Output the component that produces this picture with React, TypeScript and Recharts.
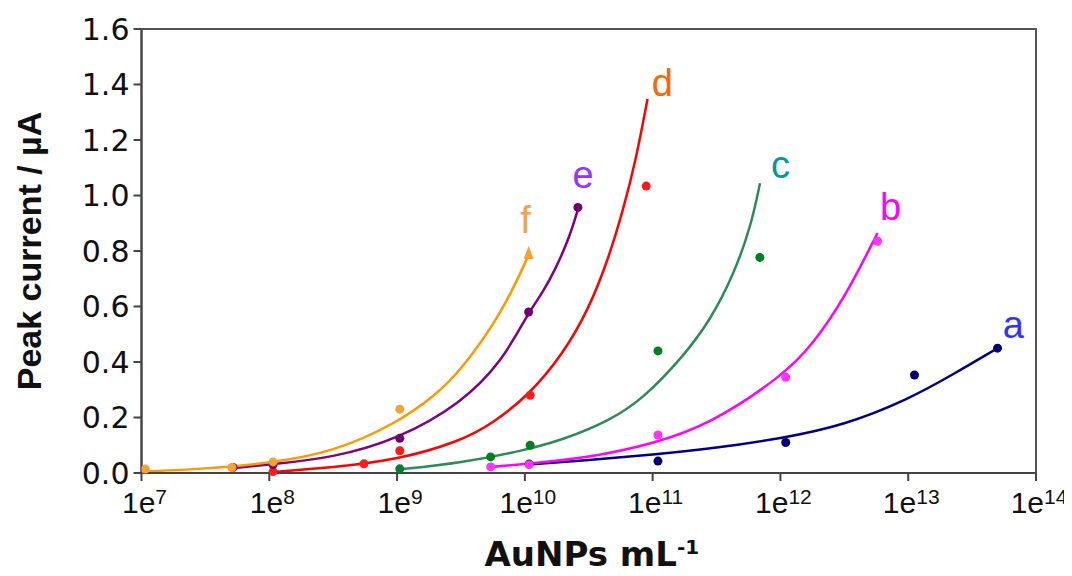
import {
  ComposedChart,
  Label,
  Line,
  ReferenceArea,
  ReferenceDot,
  Scatter,
  XAxis,
  YAxis,
} from 'recharts'

const decades = [1e7, 1e8, 1e9, 1e10, 1e11, 1e12, 1e13, 1e14]
const currentTicks = [0, 0.2, 0.4, 0.6, 0.8, 1.0, 1.2, 1.4, 1.6]

// measured points (AuNPs per mL, peak current in uA)
const aX = [1.08e10, 1.1e11, 1.1e12, 1.12e13, 5.0e13]
const aY = [0.032, 0.043, 0.11, 0.353, 0.45]
const bX = [5.4e9, 1.08e10, 1.1e11, 1.1e12, 5.75e12]
const bY = [0.022, 0.03, 0.137, 0.345, 0.835]
const cX = [1.05e9, 5.4e9, 1.1e10, 1.1e11, 6.9e11]
const cY = [0.015, 0.058, 0.1, 0.44, 0.777]
const dX = [1.07e8, 5.5e8, 1.05e9, 1.1e10, 8.9e10]
const dY = [0.005, 0.033, 0.08, 0.28, 1.034]
const eX = [5.2e7, 1.07e8, 1.05e9, 1.07e10, 2.6e10]
const eY = [0.02, 0.03, 0.125, 0.58, 0.957]
const fX = [1.07e7, 5.1e7, 1.07e8, 1.05e9, 1.07e10]
const fY = [0.014, 0.02, 0.04, 0.23, 0.786]

// fitted curves, x given as log10
const aFitLog = [10.0, 10.5, 11.0, 11.5, 12.0, 12.5, 13.0, 13.35, 13.7]
const aFitY = [0.03, 0.046, 0.066, 0.09, 0.124, 0.172, 0.265, 0.355, 0.45]
const bFitLog = [9.73, 10.0, 10.5, 11.0, 11.45, 12.03, 12.25, 12.5, 12.76]
const bFitY = [0.022, 0.032, 0.055, 0.105, 0.175, 0.355, 0.462, 0.628, 0.865]
const cFitLog = [9.0, 9.5, 10.0, 10.3, 10.67, 10.93, 11.24, 11.45, 11.63, 11.77, 11.84]
const cFitY = [0.012, 0.036, 0.082, 0.12, 0.19, 0.27, 0.42, 0.55, 0.71, 0.89, 1.044]
const dFitLog = [8.0, 8.5, 9.0, 9.5, 9.75, 10.03, 10.3, 10.5, 10.66, 10.77, 10.87, 10.96]
const dFitY = [0.003, 0.02, 0.047, 0.115, 0.18, 0.28, 0.43, 0.59, 0.78, 0.95, 1.13, 1.348]
const eFitLog = [7.72, 8.0, 8.5, 9.0, 9.5, 9.82, 10.03, 10.14, 10.24, 10.35, 10.42]
const eFitY = [0.018, 0.03, 0.055, 0.12, 0.25, 0.4, 0.58, 0.65, 0.735, 0.85, 0.957]
const fFitLog = [7.0, 7.5, 8.0, 8.5, 9.0, 9.3, 9.5, 9.82, 10.03]
const fFitY = [0.005, 0.015, 0.035, 0.075, 0.18, 0.28, 0.37, 0.575, 0.786]

// curve letters
const tagText = ['a', 'b', 'c', 'd', 'e', 'f']
const tagX = [6.65e13, 7.28e12, 1.0e12, 1.19e11, 2.85e10, 1.01e10]
const tagY = [0.486, 0.912, 1.062, 1.358, 1.026, 0.864]

const sans = "'Liberation Sans', Arial, sans-serif"
const wide = "'DejaVu Sans', sans-serif"

const pts = (xs: number[], ys: number[]) => xs.map((x, i) => ({ x, y: ys[i] }))
const fit = (ls: number[], ys: number[]) => ls.map((l, i) => ({ x: 10 ** l, y: ys[i] }))

const series = [
  { key: 'a', points: pts(aX, aY), curve: fit(aFitLog, aFitY), line: '#000080', dot: '#000070', tag: '#3333ff' },
  { key: 'b', points: pts(bX, bY), curve: fit(bFitLog, bFitY), line: '#ff00ff', dot: '#ff33ff', tag: '#ff00ff' },
  { key: 'c', points: pts(cX, cY), curve: fit(cFitLog, cFitY), line: '#2e8b57', dot: '#008020', tag: '#009999' },
  { key: 'd', points: pts(dX, dY), curve: fit(dFitLog, dFitY), line: '#ff0000', dot: '#ff1a1a', tag: '#ff6600' },
  { key: 'e', points: pts(eX, eY), curve: fit(eFitLog, eFitY), line: '#800080', dot: '#700070', tag: '#9933ff' },
  { key: 'f', points: pts(fX, fY), curve: fit(fFitLog, fFitY), line: '#ff9900', dot: '#f7a035', tag: '#f4a04c' },
]

function XTick(props: any) {
  const { x, y, payload } = props
  const exp = Math.round(Math.log10(payload.value))
  return (
    <text x={x + 3} y={y + 30} textAnchor="middle" fontFamily={sans} fontSize={30} fill="#111">
      <tspan>1e</tspan>
      <tspan fontSize={21} dy={-9}>{exp}</tspan>
    </text>
  )
}

function YTitle(props: any) {
  const vb = props.viewBox
  const cx = vb.x + 28
  const cy = vb.y + vb.height / 2
  return (
    <text
      x={cx}
      y={cy}
      transform={`rotate(-90 ${cx} ${cy})`}
      textAnchor="middle"
      fontFamily={sans}
      fontWeight="bold"
      fontSize={34}
      fill="#111"
    >
      Peak current / µA
    </text>
  )
}

function XTitle(props: any) {
  const vb = props.viewBox
  return (
    <text
      x={vb.x + vb.width / 2 + 3}
      y={vb.y + 93}
      textAnchor="middle"
      fontFamily={wide}
      fontWeight="bold"
      fontSize={34}
      fill="#111"
    >
      <tspan>AuNPs mL</tspan>
      <tspan fontSize={20} dy={-12}>-1</tspan>
    </text>
  )
}

function makeDot(color: string, lastX?: number) {
  return (p: any) => {
    const { cx, cy } = p
    if (lastX !== undefined && p.payload && p.payload.x === lastX) {
      return <polygon points={`${cx},${cy - 9} ${cx - 5},${cy + 4} ${cx + 5},${cy + 4}`} fill={color} />
    }
    return <circle cx={cx} cy={cy} r={4.5} fill={color} />
  }
}

function makeTag(text: string, color: string) {
  return (p: any) => {
    const vb = p.viewBox
    return (
      <text
        x={vb.x + vb.width / 2}
        y={vb.y + vb.height / 2}
        textAnchor="middle"
        fontFamily={sans}
        fontSize={38}
        fill={color}
      >
        {text}
      </text>
    )
  }
}

export default function App() {
  return (
    <div style={{ width: 1064, height: 568 }}>
      <ComposedChart width={1064} height={568} margin={{ top: 21, right: 36, left: 5, bottom: 8 }}>
        <XAxis
          dataKey="x"
          type="number"
          scale="log"
          domain={[1e7, 1e14]}
          ticks={decades}
          interval={0}
          allowDataOverflow
          height={95}
          tick={<XTick />}
          tickSize={8}
          axisLine={{ stroke: '#444', strokeWidth: 2 }}
          tickLine={{ stroke: '#444', strokeWidth: 2 }}
        >
          <Label content={XTitle} />
        </XAxis>
        <YAxis
          dataKey="y"
          type="number"
          domain={[0, 1.6]}
          ticks={currentTicks}
          interval={0}
          width={128.5}
          tickSize={8}
          tickMargin={4}
          tickFormatter={(v: number) => v.toFixed(1)}
          tick={{ fontSize: 30, fontFamily: wide, fill: '#111' }}
          axisLine={{ stroke: '#444', strokeWidth: 2 }}
          tickLine={{ stroke: '#444', strokeWidth: 2 }}
        >
          <Label content={YTitle} />
        </YAxis>
        <ReferenceArea x1={1e7} x2={1e14} y1={0} y2={1.6} fill="none" stroke="#555" strokeWidth={2} />
        {series.map((s) => (
          <Line
            key={'fit-' + s.key}
            data={s.curve}
            dataKey="y"
            type="basis"
            stroke={s.line}
            strokeWidth={2.5}
            dot={false}
            isAnimationActive={false}
          />
        ))}
        {series.map((s) => (
          <Scatter
            key={'pts-' + s.key}
            data={s.points}
            dataKey="y"
            fill={s.dot}
            shape={makeDot(s.dot, s.key === 'f' ? fX[fX.length - 1] : undefined)}
            isAnimationActive={false}
          />
        ))}
        {tagText.map((t, i) => (
          <ReferenceDot
            key={'tag-' + t}
            x={tagX[i]}
            y={tagY[i]}
            r={0}
            fill="none"
            stroke="none"
            label={{ content: makeTag(t, series[i].tag) }}
          />
        ))}
      </ComposedChart>
    </div>
  )
}
